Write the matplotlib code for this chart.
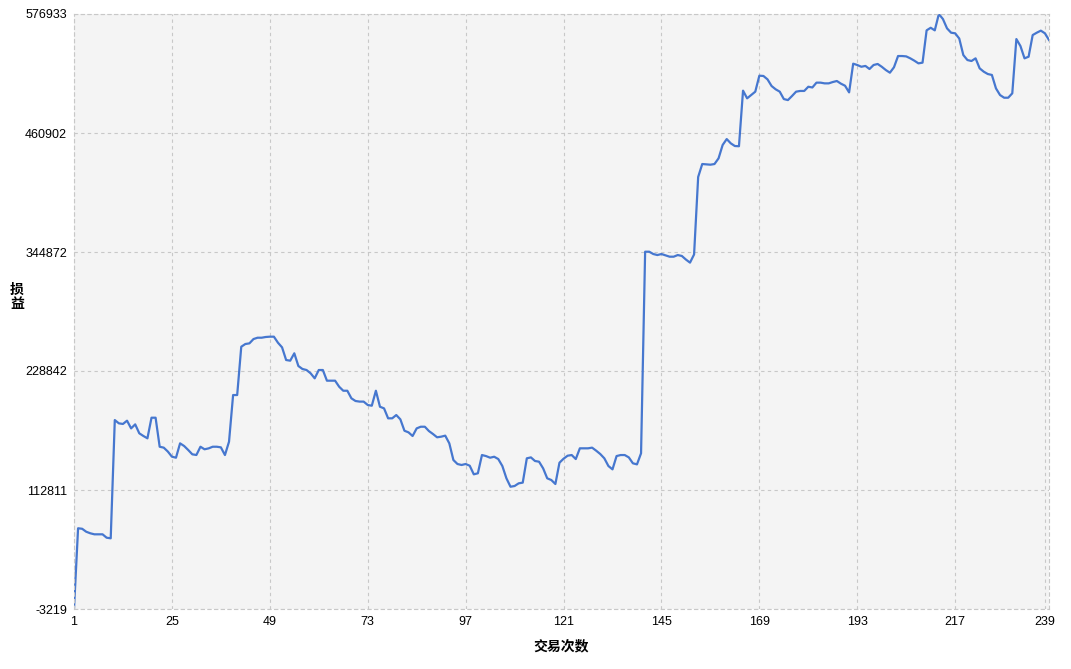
import numpy as np
import matplotlib
matplotlib.use("Agg")
from matplotlib import pyplot as plt

# profit/loss per trade count
pnl = [
    -3219, 75500, 75000, 72100, 70600, 69600, 69600, 69600, 66300, 65700,
    181000, 177800, 177200, 180400, 172900, 176800, 168100, 165500, 163200, 183300,
    183300, 155000, 154100, 150300, 145300, 144300, 158300, 155700, 151800, 147600,
    146950, 155000, 152500, 153400, 155000, 155000, 154400, 146900, 159900, 205400,
    205400, 252500, 255150, 255800, 260000, 261300, 261300, 262000, 262300, 262300,
    256400, 251900, 239550, 238900, 246100, 233700, 230800, 229800, 226600, 221700,
    229800, 229800, 219400, 219400, 219400, 213500, 209600, 209600, 202200, 199600,
    199000, 199000, 195700, 195000, 209600, 194000, 192400, 182700, 182700, 185900,
    181700, 170600, 169000, 165450, 172900, 174500, 174500, 170300, 167400, 164200,
    164800, 165800, 158300, 142050, 138150, 137200, 138150, 136500, 128100, 129100,
    146900, 145900, 144300, 145250, 143000, 136200, 124200, 116000, 116700, 119300,
    120000, 143700, 144600, 141100, 140400, 133900, 124200, 122550, 118650, 139400,
    143300, 146250, 146900, 143000, 153450, 153450, 153450, 154100, 151150, 147900,
    143700, 136200, 132950, 145900, 146900, 146900, 144600, 138850, 137800, 148600,
    345150, 345150, 342900, 341900, 342900, 341600, 340300, 340300, 341900, 341000,
    337500, 334500, 342500, 418000, 430650, 430300, 430000, 430650, 436200, 449200,
    455000, 450800, 448200, 448000, 502200, 494700, 497900, 501200, 516800, 516500,
    513200, 506700, 503500, 501200, 494000, 493000, 496950, 501200, 501900, 501900,
    506000, 505300, 510000, 510000, 509300, 509300, 510600, 511600, 509000, 507000,
    500500, 528500, 527200, 525500, 526300, 523300, 527200, 528200, 525500, 522300,
    519700, 525000, 535950, 535950, 535600, 533700, 531400, 528800, 529500, 561000,
    563500, 561000, 576933, 572000, 562950, 558700, 558100, 553000, 536900, 532050,
    531100, 533700, 523950, 520700, 518400, 517500, 504400, 497900, 495300, 495300,
    499600, 552500, 545700, 533700, 535300, 556400, 558700, 560700, 558100, 551550,
]
trades = list(range(1, len(pnl) + 1))

x_ticks = [1, 25, 49, 73, 97, 121, 145, 169, 193, 217, 239]
y_ticks = [-3219, 112811, 228842, 344872, 460902, 576933]

plt.rcParams["font.family"] = ["Liberation Sans", "Noto Sans CJK SC", "DejaVu Sans"]

fig = plt.figure(figsize=(10.71, 6.69), dpi=100)
ax = fig.add_axes([74 / 1071, 1 - 609 / 669, (1049 - 74) / 1071, (609 - 14) / 669])
ax.set_facecolor("#f4f4f4")

ax.plot(trades, pnl, color="#4677cf", linewidth=1.6)

ax.set_xlim(1, 240)
ax.set_ylim(y_ticks[0], y_ticks[-1])
ax.set_xticks(x_ticks)
ax.set_xticklabels([str(t) for t in x_ticks])
ax.set_yticks(y_ticks)
ax.set_yticklabels([str(t) for t in y_ticks])
ax.tick_params(length=0, labelsize=9, colors="black")
ax.tick_params(axis="x", pad=5)
ax.tick_params(axis="y", pad=5)

ax.grid(True, linestyle=(0, (3, 3)), color="#c8c8c8", linewidth=0.8)
for s in ax.spines.values():
    s.set_linestyle((0, (3, 3)))
    s.set_color("#c8c8c8")
    s.set_linewidth(0.8)

ax.set_xlabel("交易次数", fontsize=10, fontweight="bold",
              family=["Noto Sans CJK SC", "DejaVu Sans"], labelpad=8)
fig.text(17 / 1071, 1 - 297 / 669, "损\n益", ha="center", va="center",
         fontsize=10, fontweight="bold", linespacing=1.0,
         family=["Noto Sans CJK SC", "DejaVu Sans"])

fig.savefig("out.png", dpi=100)
